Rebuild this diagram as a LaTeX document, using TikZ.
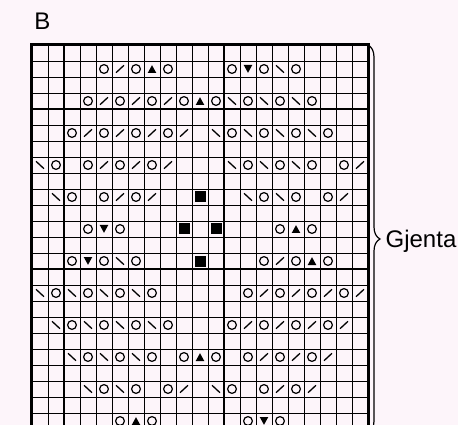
\documentclass[tikz,border=0pt]{standalone}
\usepackage{fontspec}
\setmainfont{Liberation Sans}
\usepackage{tikz}
\usetikzlibrary{decorations.pathreplacing}
\definecolor{bgpink}{RGB}{253,245,250}
\begin{document}
\begin{tikzpicture}[
    x=16pt, y=-16pt,
    thin grid/.style={draw, line width=0.9pt},
    thick grid/.style={draw, line width=1.8pt},
    frame/.style={draw, line width=3pt, line join=miter},
    chart text/.style={font=\fontsize{24}{28}\selectfont, inner sep=0pt},
    kast/.pic={\draw[line width=1.2pt] (0,0) circle (4.4pt);},
    hoyre/.pic={\draw[line width=1.3pt] (-4pt,-3.7pt) -- (4pt,3.7pt);},
    venstre/.pic={\draw[line width=1.3pt] (-4pt,3.7pt) -- (4pt,-3.7pt);},
    opp/.pic={\fill (0,3.8pt) -- (-4.3pt,-4pt) -- (4.3pt,-4pt) -- cycle;},
    ned/.pic={\fill (0,-3.8pt) -- (-4.3pt,4pt) -- (4.3pt,4pt) -- cycle;},
    vrang/.pic={\fill (-5.5pt,-5.5pt) rectangle (5.5pt,5.5pt);}
]
\fill[bgpink] (-2,-2.8125) rectangle (26.625,23.75);
\clip (-2,-2.8125) rectangle (26.625,23.75);
\foreach \c in {1,...,20} \draw[thin grid] (\c,0) -- (\c,24.5);
\foreach \r in {1,...,24} \draw[thin grid] (0,\r) -- (21,\r);
\foreach \c in {2,12} \draw[thick grid] (\c,0) -- (\c,24.5);
\foreach \r in {4,14} \draw[thick grid] (0,\r) -- (21,\r);
\draw[frame] (0,24.5) -- (0,0) -- (21,0) -- (21,24.5);
\foreach \r/\cells in {
    1/{4/kast,5/hoyre,6/kast,7/opp,8/kast,12/kast,13/ned,14/kast,15/venstre,16/kast},
    3/{3/kast,4/hoyre,5/kast,6/hoyre,7/kast,8/hoyre,9/kast,10/opp,11/kast,12/venstre,13/kast,14/venstre,15/kast,16/venstre,17/kast},
    5/{2/kast,3/hoyre,4/kast,5/hoyre,6/kast,7/hoyre,8/kast,9/hoyre,11/venstre,12/kast,13/venstre,14/kast,15/venstre,16/kast,17/venstre,18/kast},
    7/{0/venstre,1/kast,3/kast,4/hoyre,5/kast,6/hoyre,7/kast,8/hoyre,12/venstre,13/kast,14/venstre,15/kast,16/venstre,17/kast,19/kast,20/hoyre},
    9/{1/venstre,2/kast,4/kast,5/hoyre,6/kast,7/hoyre,10/vrang,13/venstre,14/kast,15/venstre,16/kast,18/kast,19/hoyre},
    11/{3/kast,4/ned,5/kast,9/vrang,11/vrang,15/kast,16/opp,17/kast},
    13/{2/kast,3/ned,4/kast,5/venstre,6/kast,10/vrang,14/kast,15/hoyre,16/kast,17/opp,18/kast},
    15/{0/venstre,1/kast,2/venstre,3/kast,4/venstre,5/kast,6/venstre,7/kast,13/kast,14/hoyre,15/kast,16/hoyre,17/kast,18/hoyre,19/kast,20/hoyre},
    17/{1/venstre,2/kast,3/venstre,4/kast,5/venstre,6/kast,7/venstre,8/kast,12/kast,13/hoyre,14/kast,15/hoyre,16/kast,17/hoyre,18/kast,19/hoyre},
    19/{2/venstre,3/kast,4/venstre,5/kast,6/venstre,7/kast,9/kast,10/opp,11/kast,13/kast,14/hoyre,15/kast,16/hoyre,17/kast,18/hoyre},
    21/{3/venstre,4/kast,5/venstre,6/kast,8/kast,9/hoyre,11/venstre,12/kast,14/kast,15/hoyre,16/kast,17/hoyre},
    23/{5/kast,6/opp,7/kast,13/kast,14/ned,15/kast}}
  \foreach \c/\s in \cells \pic at (\c+0.5,\r+0.5) {\s};
\coordinate (top) at (21,0);
\coordinate (bottom) at (21,24.25);
\draw[line width=1.2pt, decorate, decoration={brace, amplitude=12pt}] (top) -- (bottom);
\node[chart text, anchor=base west] (chart) at (0.14,-0.94) {B};
\node[chart text, anchor=base west] (repeat) at (22.09,12.63) {Gjenta};
\end{tikzpicture}
\end{document}
